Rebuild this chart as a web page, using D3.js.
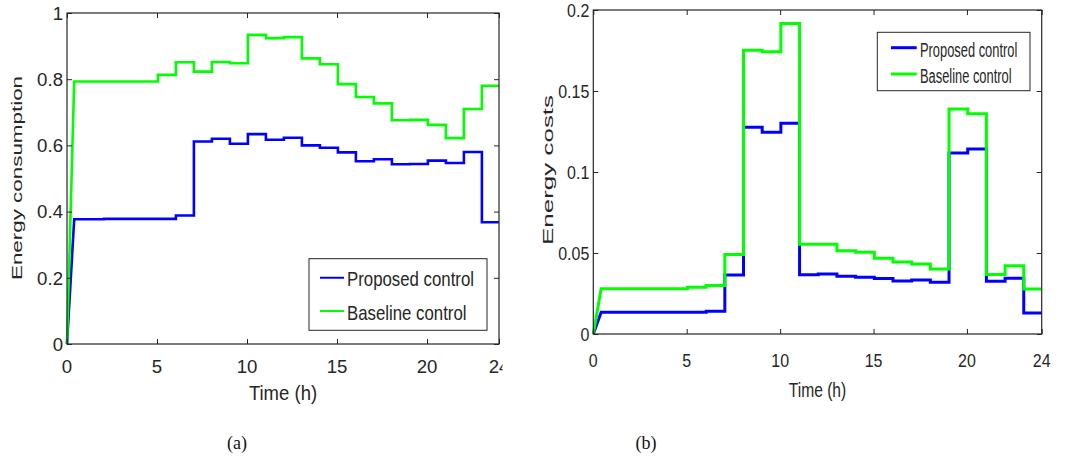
<!DOCTYPE html>
<html>
<head>
<meta charset="utf-8">
<script src="https://cdn.jsdelivr.net/npm/d3@7"></script>
<style>
  html, body { margin: 0; padding: 0; background: #fff; }
  svg { display: block; }
</style>
</head>
<body>
<svg id="fig" width="1071" height="458"></svg>
<script>
// Hourly values (hour h holds the value for [h, h+1)).
const hours = d3.range(24);

// (a) energy consumption
const consumptionProposed = [0.377, 0.377, 0.378, 0.378, 0.378, 0.378, 0.388, 0.612, 0.620, 0.605,
                             0.634, 0.617, 0.623, 0.600, 0.593, 0.579, 0.552, 0.558, 0.543, 0.544,
                             0.554, 0.547, 0.580, 0.368];
const consumptionBaseline = [0.793, 0.793, 0.793, 0.793, 0.793, 0.813, 0.851, 0.823, 0.852, 0.848,
                             0.934, 0.924, 0.927, 0.863, 0.845, 0.785, 0.746, 0.727, 0.676, 0.677,
                             0.662, 0.622, 0.710, 0.780];

// (b) energy costs
const costProposed = [0.0134, 0.0134, 0.0134, 0.0134, 0.0134, 0.0134, 0.0140, 0.0364, 0.1276, 0.1245,
                      0.1301, 0.0366, 0.0370, 0.0356, 0.0350, 0.0342, 0.0327, 0.0333, 0.0319, 0.1117,
                      0.1142, 0.0325, 0.0344, 0.0130];
const costBaseline = [0.0280, 0.0280, 0.0280, 0.0280, 0.0280, 0.0288, 0.0300, 0.0490, 0.1751, 0.1743,
                      0.1916, 0.0554, 0.0554, 0.0514, 0.0504, 0.0467, 0.0444, 0.0432, 0.0401, 0.1389,
                      0.1360, 0.0368, 0.0422, 0.0278];

// Start-up ramp: time (h) at which each series reaches its first hourly level
const rampEnd = { a: 0.4, b: 0.42 };

const xTicks = [0, 5, 10, 15, 20, 24];
const yTicksA = [0, 0.2, 0.4, 0.6, 0.8, 1];
const yTicksB = [0, 0.05, 0.1, 0.15, 0.2];
const yTickLabelsB = ["0", "0.05", "0.1", "0.15", "0.2"];

const seriesNames = ["Proposed control", "Baseline control"];
const seriesColors = ["#0000ff", "#00ff00"];

const AXIS = "#262626";
const FONT = "'Liberation Sans', Arial, Helvetica, sans-serif";

const svg = d3.select("#fig");

function label(g, o) {
  let t = `translate(${o.x},${o.y})`;
  if (o.rotate) t += ` rotate(${o.rotate})`;
  t += ` scale(${o.sx || 1},${o.sy || 1})`;
  return g.append("text")
    .attr("transform", t)
    .attr("font-family", o.family || FONT)
    .attr("font-size", o.size)
    .attr("fill", o.fill || AXIS)
    .attr("text-anchor", o.anchor || "start")
    .attr("dy", o.dy || null)
    .text(o.text);
}

// Build a step line: a short ramp from zero, then hourly steps.
function stepPoints(values, ramp, delay) {
  const pts = [[0, 0], [ramp, values[0]]];
  for (let h = 1; h < values.length; h++) {
    pts.push([h + delay, values[h - 1]]);
    pts.push([h + delay, values[h]]);
  }
  pts.push([24, values[values.length - 1]]);
  return pts;
}

function panel(cfg) {
  const g = svg.append("g");
  if (cfg.clip) {
    const id = "clip-" + cfg.key;
    svg.append("clipPath").attr("id", id)
      .append("rect").attr("x", cfg.clip[0]).attr("y", 0)
      .attr("width", cfg.clip[1] - cfg.clip[0]).attr("height", 458);
    g.attr("clip-path", `url(#${id})`);
  }
  const { left, right, top, bottom } = cfg.box;
  const x = d3.scaleLinear().domain([0, 24]).range([left, right]);
  const y = d3.scaleLinear().domain(cfg.yDomain).range([bottom, top]);

  // data lines (baseline drawn last, on top)
  const line = d3.line().x(d => x(d[0])).y(d => y(d[1]));
  cfg.series.forEach((vals, i) => {
    g.append("path")
      .datum(stepPoints(vals, cfg.ramp, cfg.delay))
      .attr("fill", "none")
      .attr("stroke", seriesColors[i])
      .attr("stroke-width", cfg.lineWidth)
      .attr("stroke-linejoin", "miter")
      .attr("d", line);
  });

  // axes with inward ticks on all four sides
  const tl = 5;
  const axB = d3.axisBottom(x).tickValues(xTicks).tickSizeInner(-tl).tickSizeOuter(0).tickFormat("");
  const axT = d3.axisTop(x).tickValues(xTicks).tickSizeInner(-tl).tickSizeOuter(0).tickFormat("");
  const axL = d3.axisLeft(y).tickValues(cfg.yTicks).tickSizeInner(-tl).tickSizeOuter(0).tickFormat("");
  const axR = d3.axisRight(y).tickValues(cfg.yTicks).tickSizeInner(-tl).tickSizeOuter(0).tickFormat("");
  [[axB, `translate(0,${bottom})`], [axT, `translate(0,${top})`],
   [axL, `translate(${left},0)`], [axR, `translate(${right},0)`]].forEach(([ax, tr]) => {
    const a = g.append("g").attr("transform", tr).call(ax);
    a.select(".domain").remove();
    a.selectAll("line").attr("stroke", AXIS).attr("stroke-width", 1);
  });
  g.append("rect")
    .attr("x", left).attr("y", top)
    .attr("width", right - left).attr("height", bottom - top)
    .attr("fill", "none").attr("stroke", AXIS).attr("stroke-width", 1.2);

  // tick labels
  xTicks.forEach(v => label(g, {
    x: x(v), y: bottom + cfg.xLabelOffset, text: String(v), size: cfg.tickSize,
    sx: cfg.tickSx, anchor: "middle"
  }));
  cfg.yTicks.forEach((v, i) => label(g, {
    x: left - 4, y: y(v), text: cfg.yTickLabels[i], size: cfg.tickSize,
    sx: cfg.tickSx, anchor: "end", dy: "0.36em"
  }));

  // axis titles
  label(g, { x: (left + right) / 2, y: cfg.xTitleY, text: "Time (h)", size: cfg.titleSize,
             sx: cfg.titleSx, anchor: "middle" });
  label(g, { x: cfg.yTitleX, y: cfg.yTitleY, text: cfg.yTitle, size: cfg.yTitleSize,
             rotate: -90, sy: cfg.yTitleSy, anchor: "middle" });

  // legend
  const L = cfg.legend;
  g.append("rect").attr("x", L.x0).attr("y", L.y0)
    .attr("width", L.x1 - L.x0).attr("height", L.y1 - L.y0)
    .attr("fill", "#fff").attr("stroke", AXIS).attr("stroke-width", 1);
  seriesNames.forEach((name, i) => {
    g.append("line")
      .attr("x1", L.lx0).attr("x2", L.lx1)
      .attr("y1", L.rows[i]).attr("y2", L.rows[i])
      .attr("stroke", seriesColors[i]).attr("stroke-width", cfg.legendLineWidth);
    label(g, { x: L.tx, y: L.base[i], text: name, size: L.size, sx: L.sx });
  });

  // caption
  label(svg, { x: cfg.caption.x, y: 449, text: cfg.caption.text, size: 18,
               family: "'Liberation Serif', 'Times New Roman', serif", fill: "#111", anchor: "middle" });
}

panel({
  key: "a",
  box: { left: 67, right: 499, top: 13, bottom: 344 },
  clip: [0, 502.5],
  yDomain: [0, 1],
  yTicks: yTicksA,
  yTickLabels: yTicksA.map(String),
  series: [consumptionProposed, consumptionBaseline],
  ramp: rampEnd.a,
  delay: 0.05,
  lineWidth: 2.6,
  tickSize: 19, tickSx: 0.98,
  xLabelOffset: 28.7,
  titleSize: 19.5, titleSx: 0.95, xTitleY: 400,
  yTitle: "Energy consumption", yTitleX: 21.7, yTitleY: 178, yTitleSize: 22.4, yTitleSy: 0.68,
  legend: { x0: 309, x1: 487, y0: 258.7, y1: 330.3, lx0: 320, lx1: 344,
            rows: [277.7, 311], tx: 347, base: [286, 320], size: 20.5, sx: 0.82 },
  legendLineWidth: 2,
  caption: { x: 237, text: "(a)" }
});

panel({
  key: "b",
  box: { left: 593.3, right: 1041.7, top: 10, bottom: 334 },
  yDomain: [0, 0.2],
  yTicks: yTicksB,
  yTickLabels: yTickLabelsB,
  series: [costProposed, costBaseline],
  ramp: rampEnd.b,
  delay: 0.04,
  lineWidth: 3,
  tickSize: 18.6, tickSx: 0.86,
  xLabelOffset: 32.7,
  titleSize: 19.5, titleSx: 0.8, xTitleY: 397,
  yTitle: "Energy costs", yTitleX: 553.3, yTitleY: 170, yTitleSize: 26, yTitleSy: 0.54,
  legend: { x0: 877.3, x1: 1030, y0: 32.3, y1: 90.7, lx0: 891, lx1: 916.7,
            rows: [47.7, 74], tx: 920, base: [57.3, 82.7], size: 19.5, sx: 0.66 },
  legendLineWidth: 3,
  caption: { x: 646, text: "(b)" }
});
</script>
</body>
</html>
